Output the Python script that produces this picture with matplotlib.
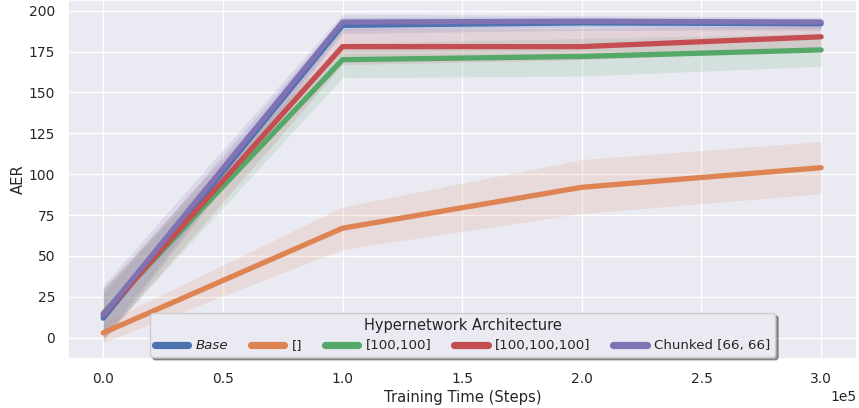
import matplotlib
matplotlib.use("Agg")
import matplotlib.pyplot as plt
import seaborn as sns
import numpy as np

sns.set_theme(style="darkgrid")
plt.rcParams['font.family'] = ['DejaVu Sans']

steps = [0, 100000, 200000, 300000]
labels = ["Base", "[]", "[100,100]", "[100,100,100]", "Chunked [66, 66]"]

base_mean = [12, 191, 192.5, 192]
base_lo = [-2, 186, 188, 188]
base_hi = [27, 196, 196, 195]

empty_mean = [3, 67, 92, 104]
empty_lo = [-3, 54, 76, 88]
empty_hi = [9, 80, 109, 120]

h2_mean = [15, 170, 172, 176]
h2_lo = [0, 159, 160, 166]
h2_hi = [30, 180, 183, 186]

h3_mean = [14, 178, 178, 184]
h3_lo = [-1, 167, 170, 176]
h3_hi = [30, 189, 189, 191]

ch_mean = [14, 193, 193.5, 193]
ch_lo = [0, 188, 190, 189]
ch_hi = [32, 198, 197, 196]

means = [base_mean, empty_mean, h2_mean, h3_mean, ch_mean]
los = [base_lo, empty_lo, h2_lo, h3_lo, ch_lo]
his = [base_hi, empty_hi, h2_hi, h3_hi, ch_hi]

colors = sns.color_palette("deep")[:5]

fig, ax = plt.subplots(figsize=(8.59, 4.08), dpi=100)
handles = []
for m, lo, hi, c, lab in zip(means, los, his, colors, labels):
    ax.fill_between(steps, lo, hi, color=c, alpha=0.15, linewidth=0)
    h, = ax.plot(steps, m, color=c, linewidth=3.8, label=lab, solid_capstyle='round')
    handles.append(h)

ax.set_xlim(-0.146e5, 3.15e5)
ax.set_ylim(-13, 206.5)
ax.set_xlabel("Training Time (Steps)", fontsize=10.6, labelpad=3)
ax.set_ylabel("AER", fontsize=10.6, labelpad=2)
ax.tick_params(labelsize=10)
ax.ticklabel_format(axis='x', style='sci', scilimits=(0, 0))
ax.xaxis.get_offset_text().set_fontsize(10)

leg = ax.legend(handles=handles, title="Hypernetwork Architecture", ncol=5,
                loc='lower center', bbox_to_anchor=(0.5, 0.0), borderaxespad=0.15,
                shadow=True, fontsize=9.6, title_fontsize=10.5, frameon=True,
                handlelength=2.5, handletextpad=0.57, columnspacing=1.7,
                borderpad=0.35)
for lh in leg.get_lines():
    lh.set_linewidth(5.2)
leg.get_texts()[0].set_fontstyle('italic')
leg.get_frame().set_edgecolor('0.8')

fig.subplots_adjust(left=0.0795, right=0.9977, top=1.0, bottom=0.12)
fig.savefig("out.png", dpi=100)
